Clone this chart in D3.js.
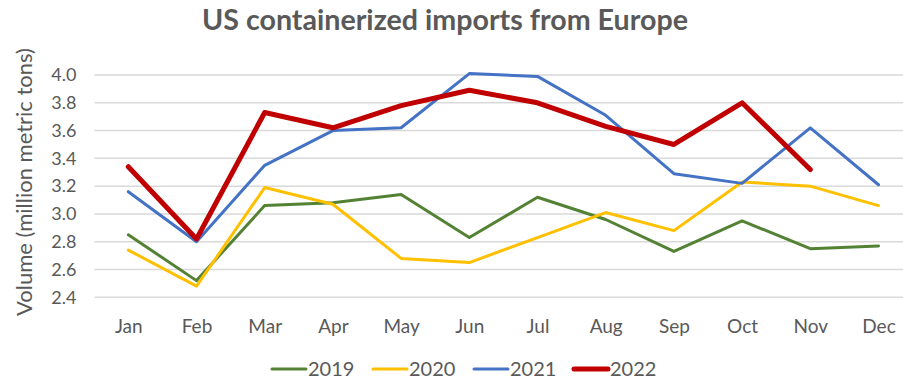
<!DOCTYPE html>
<html>
<head>
<meta charset="utf-8">
<script src="https://cdn.jsdelivr.net/npm/d3@7"></script>
<style>
  html, body { margin: 0; padding: 0; background: #fff; }
  svg { display: block; }
  text { font-family: Lato, "Open Sans", sans-serif; fill: #595959; }
</style>
</head>
<body>
<svg id="chart" width="903" height="382"></svg>
<script>
// Monthly US containerized imports from Europe (million metric tons)
const months = ["Jan","Feb","Mar","Apr","May","Jun","Jul","Aug","Sep","Oct","Nov","Dec"];
const years = ["2019","2020","2021","2022"];
const values2019 = [2.85, 2.52, 3.06, 3.08, 3.14, 2.83, 3.12, 2.96, 2.73, 2.95, 2.75, 2.77];
const values2020 = [2.74, 2.48, 3.19, 3.07, 2.68, 2.65, 2.83, 3.01, 2.88, 3.23, 3.20, 3.06];
const values2021 = [3.16, 2.80, 3.35, 3.60, 3.62, 4.01, 3.99, 3.71, 3.29, 3.22, 3.62, 3.21];
const values2022 = [3.34, 2.82, 3.73, 3.62, 3.78, 3.89, 3.80, 3.63, 3.50, 3.80, 3.32];
const yTicks = [2.4, 2.6, 2.8, 3.0, 3.2, 3.4, 3.6, 3.8, 4.0];
const colors = ["#548235", "#FFC000", "#4472C4", "#C00000"];
const widths = [3, 3, 3, 5];

const series = [values2019, values2020, values2021, values2022];

const svg = d3.select("#chart");
const W = 903, H = 382;

const x = d3.scalePoint().domain(months).range([128.3, 878.5]);
const y = d3.scaleLinear().domain([2.4, 4.0]).range([297.3, 75]);

// Gridlines
svg.append("g")
  .selectAll("line")
  .data(yTicks)
  .join("line")
  .attr("x1", 94.5).attr("x2", W)
  .attr("y1", d => y(d)).attr("y2", d => y(d))
  .attr("stroke", "#d9d9d9")
  .attr("stroke-width", 1.5);

// Y axis labels
const yAxis = d3.axisLeft(y).tickValues(yTicks).tickFormat(d3.format(".1f")).tickSize(0).tickPadding(0);
svg.append("g")
  .attr("transform", "translate(76.5,0)")
  .call(yAxis)
  .call(g => g.select(".domain").remove())
  .call(g => g.selectAll("text")
    .attr("font-size", 18)
    .attr("font-family", "Lato, 'Open Sans', sans-serif")
    .attr("fill", "#595959"));

// X axis labels
const xAxis = d3.axisBottom(x).tickSize(0).tickPadding(0);
svg.append("g")
  .attr("transform", "translate(0,319)")
  .call(xAxis)
  .call(g => g.select(".domain").remove())
  .call(g => g.selectAll("text")
    .attr("font-size", 19)
    .attr("font-family", "Lato, 'Open Sans', sans-serif")
    .attr("fill", "#595959"));

// Y axis title
const yTitle = svg.append("text")
  .attr("transform", "translate(32,182) rotate(-90)")
  .attr("text-anchor", "middle")
  .attr("font-size", 19)
  .text("Volume (million metric tons)");
const yl = yTitle.node().getComputedTextLength();
yTitle.attr("font-size", 19 * 268 / yl);

// Series lines
const line = d3.line()
  .x((d, i) => x(months[i]))
  .y(d => y(d));

svg.append("g")
  .selectAll("path")
  .data(series)
  .join("path")
  .attr("d", d => line(d))
  .attr("fill", "none")
  .attr("stroke", (d, i) => colors[i])
  .attr("stroke-width", (d, i) => widths[i])
  .attr("stroke-linejoin", "round")
  .attr("stroke-linecap", "round");

// Title
const title = svg.append("text")
  .attr("x", 445)
  .attr("y", 30)
  .attr("text-anchor", "middle")
  .attr("font-size", 25)
  .attr("font-weight", "bold")
  .attr("fill", "#595959")
  .text("US containerized imports from Europe");
const tw = title.node().getComputedTextLength();
title.attr("font-size", 25 * 486 / tw);

// Legend
const legendX = [272, 373, 474, 574];
const leg = svg.append("g")
  .selectAll("g")
  .data(years)
  .join("g")
  .attr("transform", (d, i) => `translate(${legendX[i]},369)`);
leg.append("line")
  .attr("x1", 0).attr("x2", 34)
  .attr("y1", 0).attr("y2", 0)
  .attr("stroke", (d, i) => colors[i])
  .attr("stroke-width", (d, i) => widths[i])
  .attr("stroke-linecap", "round");
leg.append("text")
  .attr("x", 36)
  .attr("y", 7)
  .attr("font-size", 20)
  .text(d => d);
</script>
</body>
</html>
